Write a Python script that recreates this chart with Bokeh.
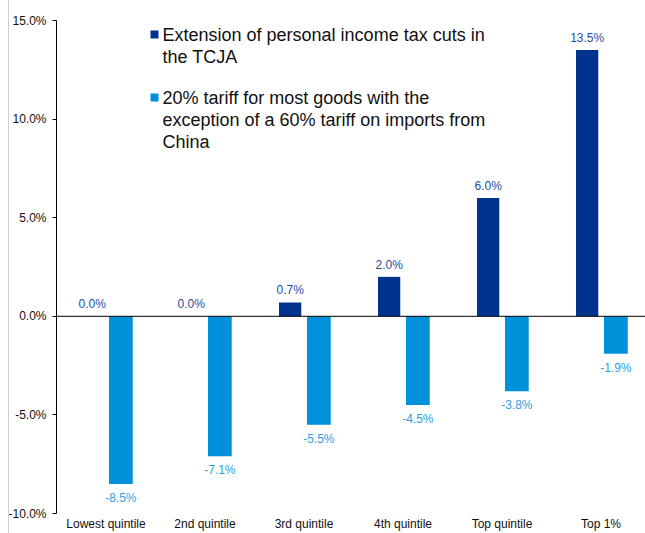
from bokeh.plotting import figure
from bokeh.models import Range1d, FixedTicker, PrintfTickFormatter, Span, InlineStyleSheet
from bokeh.core.properties import value
from bokeh.embed import file_html
from bokeh.resources import INLINE

# ---- data ----
categories = ["Lowest quintile", "2nd quintile", "3rd quintile", "4th quintile", "Top quintile", "Top 1%"]
tcja = [0.0, 0.0, 0.7, 2.0, 6.0, 13.5]
tariff = [-8.5, -7.1, -5.5, -4.5, -3.8, -1.9]
y_ticks = [-10, -5, 0, 5, 10, 15]
legend_tcja = ["Extension of personal income tax cuts in", "the TCJA"]
legend_tariff = ["20% tariff for most goods with the",
                 "exception of a 60% tariff on imports from", "China"]

# ---- layout constants ----
W, H = 645, 533
L, T, B = 56, 20, 20
FH = H - T - B
Y0, Y1 = -10, 15
GROUP_PX = 99.0
X_END = (W - L) / GROUP_PX

DARK = "#00338D"
LIGHT = "#0091DA"
DARK_TXT = "#1F4E9F"
LIGHT_TXT = "#2E9FE3"
FONT = "Liberation Sans"


def px_x(pix):
    return (pix - L) / GROUP_PX


def px_y(pix):
    return Y1 - (pix - T) / FH * (Y1 - Y0)


p = figure(width=W, height=H, output_backend="svg", toolbar_location=None,
           x_range=Range1d(0, X_END), y_range=Range1d(Y0, Y1),
           min_border_left=L, min_border_top=T, min_border_bottom=B, min_border_right=0)
p.outline_line_color = None
p.xgrid.visible = False
p.ygrid.visible = False
p.background_fill_color = "white"
p.border_fill_color = "white"

xs = [i + 0.5 for i in range(len(categories))]
x_dark = [x - 0.14 for x in xs]
x_light = [x + 0.15 for x in xs]

p.vbar(x=x_dark, top=tcja, bottom=0, width=0.225, fill_color=DARK, line_color=None)
p.vbar(x=x_light, top=tariff, bottom=0, width=0.24, fill_color=LIGHT, line_color=None)

p.add_layout(Span(location=0, dimension="width", line_color="black", line_width=1))

# data labels
p.text(x=x_dark, y=tcja, text=["%.1f%%" % v for v in tcja], text_align="center",
       text_baseline="middle", y_offset=-12, text_font=value(FONT),
       text_font_size="12px", text_color=DARK_TXT)
p.text(x=x_light, y=tariff, text=["%.1f%%" % v for v in tariff], text_align="center",
       text_baseline="middle", y_offset=14, text_font=value(FONT),
       text_font_size="12px", text_color=LIGHT_TXT)

# legend (drawn manually)
p.scatter(x=[px_x(154), px_x(154)], y=[px_y(34), px_y(97)], marker="square", size=8,
          fill_color=[DARK, LIGHT], line_color=None)
leg_lines = legend_tcja + legend_tariff
leg_y = [34, 56, 97, 119, 141]
p.text(x=[px_x(162)] * len(leg_lines), y=[px_y(v) for v in leg_y], text=leg_lines,
       text_align="left", text_baseline="middle", text_font=value(FONT),
       text_font_size="18px", text_color="#111111")

# y axis
p.yaxis.ticker = FixedTicker(ticks=y_ticks)
p.yaxis.formatter = PrintfTickFormatter(format="%.1f%%")
p.yaxis.axis_line_color = "black"
p.yaxis.major_tick_line_color = "black"
p.yaxis.major_tick_out = 4
p.yaxis.major_tick_in = 0
p.yaxis.minor_tick_line_color = None
p.yaxis.major_label_standoff = 6
p.yaxis.major_label_text_font = FONT
p.yaxis.major_label_text_font_size = "12px"
p.yaxis.major_label_text_color = "#111111"

# x axis (category labels)
p.xaxis.ticker = FixedTicker(ticks=xs)
p.xaxis.major_label_overrides = {x: c for x, c in zip(xs, categories)}
p.xaxis.axis_line_color = None
p.xaxis.major_tick_line_color = None
p.xaxis.minor_tick_line_color = None
p.xaxis.major_tick_out = 0
p.xaxis.major_tick_in = 0
p.xaxis.major_label_standoff = 3
p.xaxis.major_label_text_font = FONT
p.xaxis.major_label_text_font_size = "12px"
p.xaxis.major_label_text_color = "#111111"

p.stylesheets = [InlineStyleSheet(css=":host::before {content: ''; position: absolute; left: 8px; top: 0; bottom: 0; border-left: 1px solid #cfcfcf; z-index: 5;}")]

open("out.html", "w").write(file_html(p, INLINE))
